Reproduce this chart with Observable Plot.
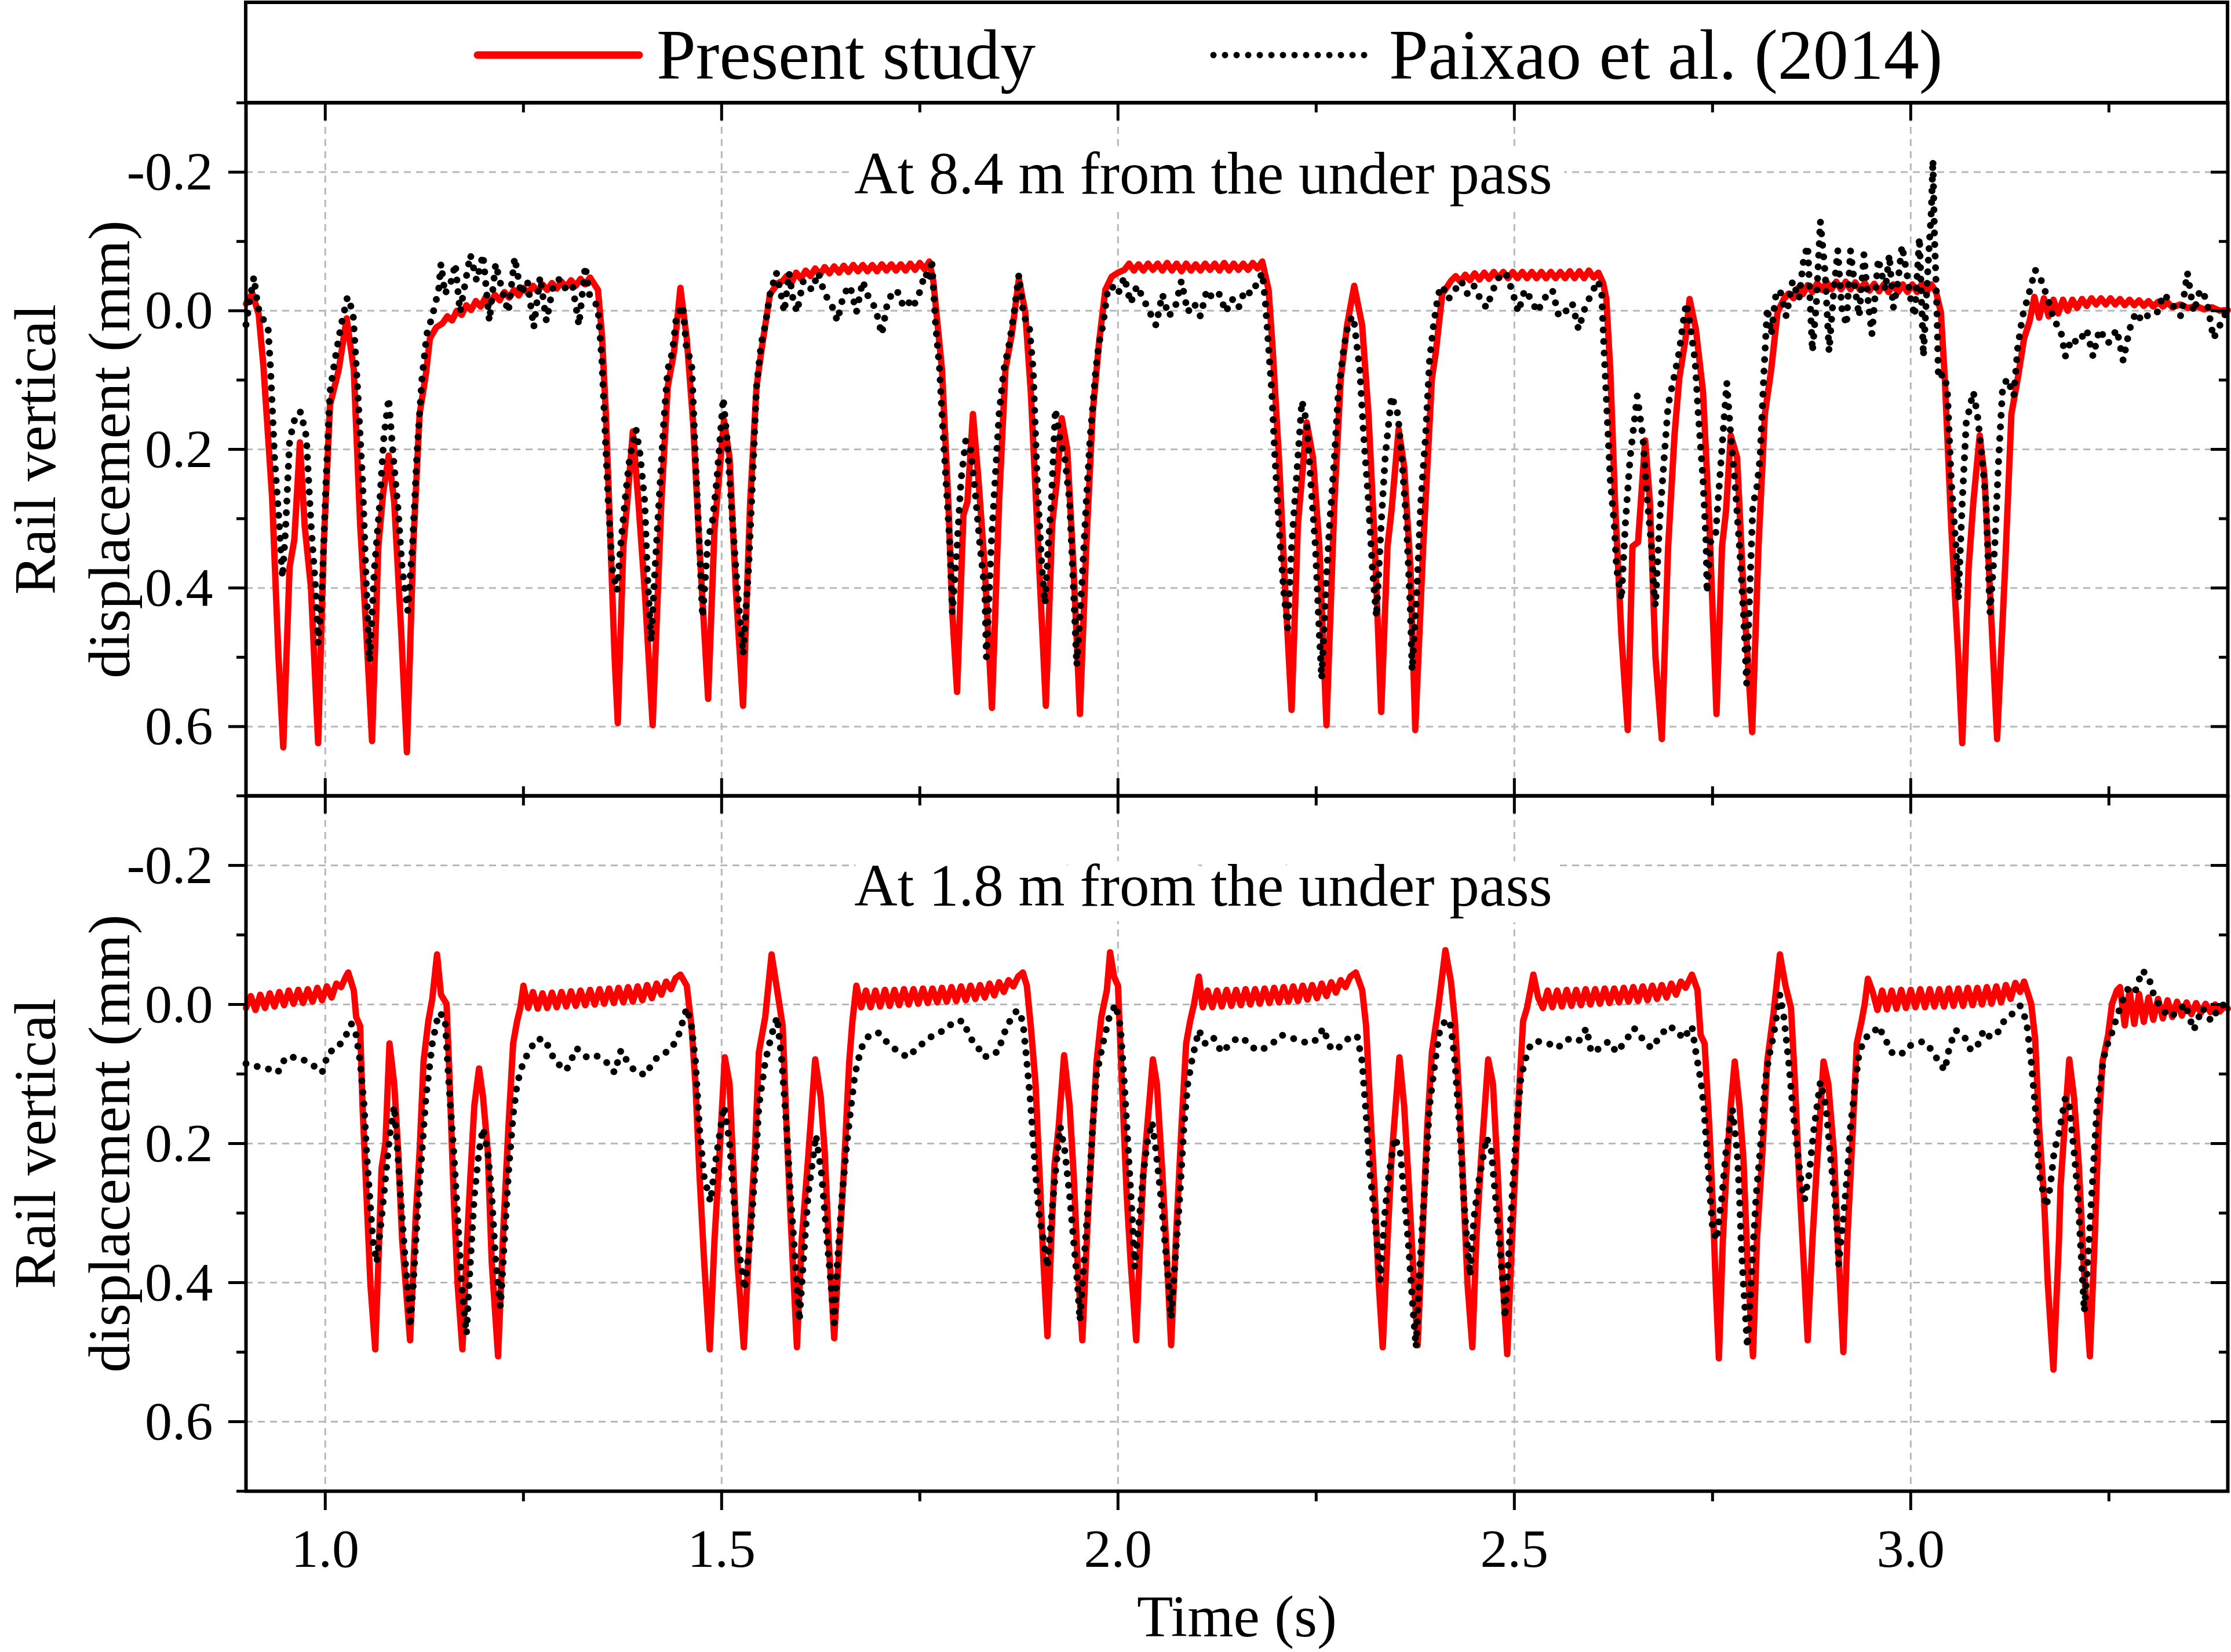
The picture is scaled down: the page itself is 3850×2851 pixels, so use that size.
<!DOCTYPE html>
<html>
<head>
<meta charset="utf-8">
<script src="https://cdn.jsdelivr.net/npm/d3@7"></script>
<script src="https://cdn.jsdelivr.net/npm/@observablehq/plot@0.6"></script>
<style>
html, body { margin: 0; padding: 0; background: #fff; }
#chart { position: relative; width: 3850px; height: 2851px; background: #fff; overflow: hidden; }
#chart > * { position: absolute; left: 0; }
</style>
</head>
<body>
<div id="chart"></div>
<script>
// ---------- ticks, labels ----------
const xMajorTicks = [1.0, 1.5, 2.0, 2.5, 3.0];
const xMinorTicks = [1.25, 1.75, 2.25, 2.75, 3.25];
const yMajorTicks = [-0.2, 0.0, 0.2, 0.4, 0.6];
const yMinorTicks = [-0.3, -0.1, 0.1, 0.3, 0.5, 0.7];
const seriesNames = ["Present study", "Paixao et al. (2014)"];
const panelLabels = ["At 8.4 m from the under pass", "At 1.8 m from the under pass"];
const xTitle = "Time (s)";
const yTitle = "Rail vertical\ndisplacement (mm)";

// ---------- top panel: Present study (time s, displacement mm) ----------
const redTop = [
[0.900,-0.010],[0.908,-0.025],[0.916,0.005],[0.922,0.080],[0.933,0.270],[0.941,0.500],[0.947,0.630],[0.955,0.370],[0.961,0.330],[0.968,0.190],[0.974,0.310],[0.982,0.400],[0.991,0.624],[0.998,0.340],[1.006,0.136],[1.017,0.085],[1.027,0.011],[1.036,0.085],[1.044,0.308],[1.052,0.468],[1.059,0.621],[1.067,0.340],[1.073,0.263],[1.080,0.209],[1.087,0.276],[1.096,0.468],[1.103,0.637],[1.111,0.340],[1.119,0.149],[1.127,0.091],[1.132,0.040],[1.140,0.024],[1.148,0.018],
[1.154,0.008],[1.160,0.014],[1.166,0.000],[1.172,0.006],[1.178,-0.008],[1.184,-0.001],[1.190,-0.014],[1.196,-0.006],[1.202,-0.019],[1.208,-0.011],[1.214,-0.023],[1.220,-0.015],[1.226,-0.027],[1.232,-0.019],[1.238,-0.030],[1.244,-0.022],[1.250,-0.033],[1.256,-0.025],[1.262,-0.036],[1.268,-0.028],[1.274,-0.038],[1.280,-0.030],[1.286,-0.040],[1.292,-0.032],[1.298,-0.042],[1.304,-0.034],[1.310,-0.044],[1.316,-0.036],[1.322,-0.046],[1.328,-0.038],[1.334,-0.048],
[1.344,-0.030],[1.349,0.034],[1.354,0.149],[1.360,0.340],[1.365,0.500],[1.369,0.595],[1.376,0.340],[1.381,0.276],[1.388,0.174],[1.395,0.276],[1.403,0.404],[1.413,0.598],[1.424,0.276],[1.432,0.110],[1.440,0.059],[1.448,-0.033],[1.456,0.040],[1.464,0.161],[1.472,0.340],[1.483,0.560],[1.491,0.315],[1.503,0.158],[1.510,0.212],[1.518,0.404],[1.527,0.570],[1.536,0.276],[1.544,0.110],[1.550,0.059],[1.561,-0.024],[1.571,-0.040],[1.577,-0.043],
[1.582,-0.050],[1.588,-0.040],[1.594,-0.055],[1.600,-0.046],[1.606,-0.058],[1.612,-0.050],[1.618,-0.061],[1.624,-0.052],[1.630,-0.063],[1.636,-0.054],[1.642,-0.064],[1.648,-0.055],[1.654,-0.065],[1.660,-0.056],[1.666,-0.066],[1.672,-0.057],[1.678,-0.066],[1.684,-0.057],[1.690,-0.066],[1.696,-0.057],[1.702,-0.067],[1.708,-0.058],[1.714,-0.067],[1.720,-0.058],[1.726,-0.067],[1.732,-0.058],[1.738,-0.068],[1.744,-0.059],[1.750,-0.069],[1.756,-0.060],[1.762,-0.071],
[1.767,-0.043],[1.778,0.085],[1.786,0.276],[1.791,0.436],[1.797,0.550],[1.805,0.295],[1.810,0.276],[1.817,0.149],[1.824,0.244],[1.832,0.372],[1.841,0.573],[1.850,0.276],[1.858,0.085],[1.866,0.034],[1.875,-0.046],[1.883,0.002],[1.890,0.117],[1.898,0.308],[1.909,0.570],[1.917,0.308],[1.923,0.244],[1.929,0.155],[1.936,0.200],[1.944,0.372],[1.952,0.582],[1.960,0.340],[1.968,0.149],[1.976,0.047],[1.984,-0.030],[1.992,-0.049],[2.000,-0.055],
[2.008,-0.059],[2.014,-0.068],[2.020,-0.058],[2.026,-0.067],[2.032,-0.058],[2.038,-0.068],[2.044,-0.059],[2.050,-0.068],[2.056,-0.058],[2.062,-0.069],[2.068,-0.058],[2.074,-0.068],[2.080,-0.057],[2.086,-0.068],[2.092,-0.058],[2.098,-0.067],[2.104,-0.058],[2.110,-0.068],[2.116,-0.059],[2.122,-0.068],[2.128,-0.058],[2.134,-0.069],[2.140,-0.058],[2.146,-0.068],[2.152,-0.059],[2.158,-0.068],[2.164,-0.059],[2.170,-0.069],[2.176,-0.061],[2.182,-0.071],
[2.190,-0.030],[2.195,0.053],[2.203,0.212],[2.211,0.404],[2.219,0.576],[2.227,0.308],[2.238,0.161],[2.246,0.212],[2.254,0.340],[2.263,0.598],[2.273,0.276],[2.281,0.098],[2.289,0.021],[2.298,-0.036],[2.308,0.021],[2.316,0.149],[2.324,0.340],[2.332,0.579],[2.340,0.340],[2.345,0.289],[2.354,0.171],[2.361,0.225],[2.369,0.372],[2.375,0.605],[2.385,0.340],[2.396,0.098],[2.401,0.059],[2.409,-0.024],[2.420,-0.043],
[2.426,-0.050],[2.432,-0.042],[2.438,-0.052],[2.444,-0.044],[2.450,-0.054],[2.456,-0.045],[2.462,-0.055],[2.468,-0.046],[2.474,-0.056],[2.480,-0.047],[2.486,-0.056],[2.492,-0.047],[2.498,-0.056],[2.504,-0.047],[2.510,-0.056],[2.516,-0.047],[2.522,-0.056],[2.528,-0.047],[2.534,-0.056],[2.540,-0.047],[2.546,-0.056],[2.552,-0.047],[2.558,-0.056],[2.564,-0.047],[2.570,-0.057],[2.576,-0.047],[2.582,-0.057],[2.588,-0.047],[2.594,-0.058],[2.600,-0.048],[2.606,-0.055],
[2.612,-0.040],[2.616,-0.017],[2.621,0.085],[2.627,0.276],[2.635,0.468],[2.643,0.605],[2.649,0.340],[2.656,0.334],[2.665,0.187],[2.671,0.276],[2.678,0.500],[2.686,0.618],[2.694,0.340],[2.702,0.180],[2.708,0.098],[2.716,0.040],[2.721,-0.017],[2.729,0.027],[2.738,0.117],[2.746,0.308],[2.755,0.582],[2.762,0.340],[2.767,0.289],[2.773,0.180],[2.781,0.212],[2.789,0.404],[2.800,0.608],[2.808,0.340],[2.816,0.149],[2.824,0.085],[2.832,0.002],[2.840,-0.017],
[2.846,-0.025],[2.852,-0.018],[2.858,-0.033],[2.864,-0.024],[2.870,-0.037],[2.876,-0.027],[2.882,-0.040],[2.888,-0.030],[2.894,-0.041],[2.900,-0.031],[2.906,-0.042],[2.912,-0.031],[2.918,-0.042],[2.924,-0.031],[2.930,-0.041],[2.936,-0.030],[2.942,-0.040],[2.948,-0.029],[2.954,-0.039],[2.960,-0.028],[2.966,-0.038],[2.972,-0.027],[2.978,-0.038],[2.984,-0.027],[2.990,-0.038],[2.996,-0.027],[3.002,-0.038],[3.008,-0.027],[3.014,-0.039],[3.020,-0.027],[3.026,-0.038],[3.032,-0.027],
[3.038,0.002],[3.043,0.098],[3.051,0.308],[3.060,0.500],[3.065,0.624],[3.073,0.372],[3.079,0.276],[3.087,0.180],[3.093,0.238],[3.100,0.404],[3.109,0.618],[3.119,0.372],[3.127,0.149],[3.135,0.098],[3.143,0.040],[3.150,0.015],
[3.156,-0.020],[3.162,0.010],[3.168,-0.018],[3.174,0.008],[3.180,-0.016],[3.186,0.004],[3.192,-0.016],[3.198,0.000],[3.204,-0.016],[3.210,-0.004],[3.216,-0.017],[3.222,-0.007],[3.228,-0.018],[3.234,-0.009],[3.240,-0.018],[3.246,-0.009],[3.252,-0.018],[3.258,-0.009],[3.264,-0.017],[3.270,-0.008],[3.276,-0.016],[3.282,-0.008],[3.288,-0.015],[3.294,-0.007],[3.300,-0.014],[3.306,-0.006],[3.312,-0.013],[3.318,-0.006],[3.324,-0.012],[3.330,-0.005],[3.340,-0.009],[3.350,-0.004],[3.360,-0.007],[3.370,-0.002],[3.380,-0.005],[3.390,0.000],[3.400,-0.001]
];

// ---------- top panel: Paixao et al. (2014) ----------
const blackTop = [
[0.900,0.020],[0.904,-0.010],[0.910,-0.049],[0.915,-0.005],[0.920,0.008],[0.928,0.027],[0.931,0.085],[0.936,0.212],[0.942,0.308],[0.946,0.385],[0.950,0.314],[0.955,0.187],[0.963,0.149],[0.969,0.146],[0.976,0.181],[0.982,0.308],[0.988,0.404],[0.991,0.480],[0.996,0.404],[1.001,0.244],[1.006,0.117],[1.012,0.072],[1.020,0.021],[1.028,-0.020],[1.035,0.002],[1.041,0.117],[1.047,0.244],[1.052,0.404],[1.056,0.506],[1.062,0.372],[1.068,0.289],[1.074,0.181],[1.080,0.126],[1.085,0.200],[1.092,0.289],[1.097,0.372],[1.104,0.433],[1.110,0.340],[1.116,0.200],[1.122,0.098],[1.128,0.034],[1.135,0.008],[1.143,-0.030],
[1.146,-0.068],[1.151,-0.024],[1.159,-0.043],[1.164,-0.068],[1.170,0.002],[1.175,-0.030],[1.183,-0.081],[1.191,-0.043],[1.199,-0.081],[1.207,0.015],[1.215,-0.068],[1.223,-0.030],[1.231,0.002],[1.239,-0.077],[1.247,-0.024],[1.255,-0.043],[1.263,0.024],[1.271,-0.049],[1.279,0.015],[1.288,-0.039],[1.296,-0.046],[1.304,-0.030],[1.312,-0.036],[1.320,0.021],[1.328,-0.065],[1.333,-0.024],[1.338,-0.017],[1.344,-0.004],
[1.349,0.072],[1.352,0.149],[1.357,0.276],[1.362,0.372],[1.368,0.404],[1.373,0.334],[1.379,0.264],[1.384,0.212],[1.392,0.171],[1.397,0.206],[1.403,0.276],[1.406,0.372],[1.411,0.477],[1.416,0.372],[1.421,0.276],[1.427,0.161],[1.432,0.085],[1.438,0.059],[1.443,0.008],[1.451,-0.008],[1.456,0.059],[1.462,0.072],[1.467,0.212],[1.472,0.340],[1.476,0.442],[1.483,0.327],[1.488,0.308],[1.494,0.244],[1.502,0.126],[1.507,0.187],[1.512,0.276],[1.520,0.404],[1.527,0.496],[1.534,0.372],[1.539,0.244],[1.544,0.110],[1.550,0.047],[1.555,0.021],[1.561,-0.024],
[1.569,-0.055],[1.574,-0.030],[1.579,0.002],[1.585,-0.055],[1.590,-0.017],[1.595,0.002],[1.603,-0.043],[1.614,-0.030],[1.622,-0.055],[1.630,-0.024],[1.638,-0.011],[1.646,0.015],[1.654,-0.024],[1.662,-0.036],[1.670,0.002],[1.678,-0.043],[1.686,-0.017],[1.694,-0.004],[1.702,0.034],[1.710,-0.017],[1.721,-0.030],[1.728,-0.010],[1.733,-0.017],[1.741,-0.004],[1.749,-0.024],[1.757,-0.055],[1.762,-0.043],[1.765,-0.075],
[1.770,0.021],[1.775,0.085],[1.778,0.149],[1.783,0.244],[1.788,0.340],[1.791,0.436],[1.797,0.340],[1.802,0.244],[1.808,0.187],[1.814,0.200],[1.820,0.264],[1.826,0.340],[1.832,0.404],[1.834,0.500],[1.840,0.340],[1.845,0.244],[1.850,0.149],[1.856,0.085],[1.863,0.047],[1.869,0.002],[1.875,-0.052],[1.881,0.008],[1.888,0.021],[1.893,0.085],[1.898,0.244],[1.904,0.372],[1.908,0.423],[1.912,0.340],[1.916,0.276],[1.921,0.142],[1.927,0.187],[1.933,0.212],[1.939,0.276],[1.944,0.404],[1.948,0.512],[1.954,0.404],[1.960,0.276],[1.965,0.181],[1.972,0.085],[1.976,0.047],[1.981,0.021],[1.987,-0.030],
[1.992,-0.036],[2.000,-0.024],[2.008,-0.049],[2.016,-0.011],[2.024,-0.036],[2.032,-0.017],[2.040,0.002],[2.048,0.021],[2.056,-0.024],[2.064,0.008],[2.072,-0.004],[2.080,-0.043],[2.088,0.002],[2.096,-0.011],[2.104,0.008],[2.112,-0.030],[2.120,-0.017],[2.128,-0.024],[2.136,0.002],[2.144,-0.017],[2.152,-0.004],[2.160,-0.030],[2.168,-0.024],[2.177,-0.043],[2.182,-0.055],
[2.186,-0.011],[2.190,0.053],[2.194,0.117],[2.198,0.212],[2.203,0.308],[2.209,0.404],[2.214,0.458],[2.219,0.340],[2.225,0.244],[2.232,0.130],[2.238,0.161],[2.243,0.244],[2.249,0.340],[2.254,0.468],[2.257,0.531],[2.262,0.404],[2.267,0.308],[2.273,0.212],[2.278,0.117],[2.285,0.053],[2.291,0.015],[2.297,0.008],[2.305,0.085],[2.310,0.181],[2.316,0.276],[2.321,0.372],[2.326,0.442],[2.332,0.308],[2.337,0.212],[2.345,0.123],[2.353,0.149],[2.358,0.212],[2.364,0.308],[2.369,0.436],[2.371,0.519],[2.377,0.404],[2.382,0.276],[2.388,0.181],[2.393,0.072],[2.398,0.021],[2.404,-0.024],
[2.409,-0.036],[2.417,-0.017],[2.425,-0.030],[2.433,-0.043],[2.441,-0.024],[2.449,-0.036],[2.457,-0.017],[2.465,-0.004],[2.473,-0.030],[2.481,-0.049],[2.489,-0.055],[2.497,-0.030],[2.505,0.002],[2.513,-0.030],[2.521,-0.017],[2.529,0.002],[2.537,-0.017],[2.548,-0.030],[2.556,0.008],[2.564,0.002],[2.573,-0.011],[2.581,0.027],[2.589,-0.004],[2.597,-0.024],[2.605,-0.043],[2.610,-0.030],
[2.613,0.053],[2.617,0.149],[2.621,0.244],[2.626,0.308],[2.629,0.372],[2.635,0.417],[2.640,0.308],[2.646,0.212],[2.655,0.123],[2.662,0.181],[2.667,0.264],[2.673,0.340],[2.676,0.404],[2.678,0.426],[2.683,0.308],[2.689,0.212],[2.694,0.136],[2.700,0.104],[2.708,0.059],[2.714,0.008],[2.717,-0.011],[2.721,0.015],[2.728,0.072],[2.732,0.149],[2.738,0.244],[2.742,0.340],[2.743,0.407],[2.748,0.327],[2.754,0.321],[2.759,0.244],[2.765,0.149],[2.768,0.104],[2.773,0.181],[2.778,0.244],[2.784,0.340],[2.789,0.436],[2.793,0.538],[2.797,0.404],[2.801,0.276],[2.805,0.264],[2.810,0.212],[2.815,0.085],[2.819,-0.004],[2.824,0.034],[2.830,-0.024],
[2.835,-0.030],[2.843,0.008],[2.851,-0.043],[2.859,-0.017],[2.865,-0.075],[2.870,-0.094],[2.876,0.059],[2.881,-0.011],[2.886,-0.129],[2.892,-0.055],[2.897,0.059],[2.903,-0.030],[2.908,-0.087],[2.913,-0.004],[2.919,0.021],[2.924,-0.087],[2.930,-0.030],[2.935,0.008],[2.941,-0.081],[2.946,-0.017],[2.951,0.034],[2.959,-0.075],[2.968,-0.030],[2.973,-0.081],[2.978,-0.004],[2.984,-0.043],[2.989,-0.094],[2.995,-0.055],[3.000,-0.017],[3.005,0.008],[3.011,-0.106],[3.016,0.066],[3.022,-0.068],[3.026,-0.144],[3.028,-0.218],[3.030,-0.107],[3.033,-0.004],[3.035,0.098],[3.041,0.091],[3.046,0.110],[3.051,0.244],[3.057,0.340],[3.060,0.417],[3.065,0.276],[3.070,0.162],[3.079,0.117],[3.084,0.149],[3.089,0.200],[3.095,0.276],[3.097,0.340],[3.100,0.436],[3.106,0.340],[3.111,0.212],[3.116,0.110],[3.122,0.098],[3.130,0.123],[3.135,0.053],[3.141,0.008],[3.149,-0.024],[3.157,-0.059],[3.165,-0.043],[3.173,-0.017],[3.181,0.015],[3.189,0.027],[3.195,0.066],[3.203,0.040],[3.211,0.047],[3.222,0.027],[3.230,0.066],[3.238,0.027],[3.249,0.047],[3.260,0.027],[3.268,0.072],[3.276,0.027],[3.284,0.002],[3.292,0.015],[3.303,0.002],[3.311,0.002],[3.319,-0.024],[3.325,-0.017],[3.333,-0.004],[3.341,0.008],[3.349,-0.055],[3.357,0.002],[3.365,-0.030],[3.373,-0.017],[3.382,0.040],[3.390,0.021],[3.398,0.002]
];

// ---------- bottom panel: Present study ----------
const redBottom = [
[0.900,0.005],[0.906,-0.012],[0.912,0.008],[0.918,-0.014],[0.924,0.005],[0.930,-0.016],[0.936,0.003],[0.942,-0.018],[0.948,0.001],[0.954,-0.020],[0.960,-0.001],[0.966,-0.021],[0.972,-0.002],[0.978,-0.022],[0.984,-0.004],[0.990,-0.024],[0.996,-0.006],[1.002,-0.026],[1.008,-0.010],[1.014,-0.030],[1.020,-0.025],[1.026,-0.040],[1.029,-0.046],
[1.036,-0.020],[1.039,0.018],[1.044,0.031],[1.047,0.146],[1.052,0.274],[1.057,0.403],[1.063,0.496],[1.068,0.339],[1.071,0.236],[1.076,0.198],[1.081,0.056],[1.087,0.114],[1.092,0.211],[1.097,0.339],[1.107,0.483],[1.114,0.307],[1.119,0.211],[1.124,0.082],[1.130,0.024],[1.135,-0.008],[1.141,-0.072],[1.146,-0.014],[1.153,-0.001],[1.156,0.082],[1.162,0.275],[1.167,0.403],[1.173,0.496],[1.179,0.339],[1.183,0.249],[1.188,0.146],[1.194,0.092],[1.199,0.133],[1.205,0.211],[1.210,0.371],[1.218,0.506],[1.224,0.339],[1.231,0.178],[1.237,0.056],[1.242,0.024],[1.246,0.005],[1.250,-0.027],
[1.256,0.005],[1.262,-0.018],[1.268,0.006],[1.274,-0.016],[1.280,0.005],[1.286,-0.017],[1.292,0.004],[1.298,-0.018],[1.304,0.003],[1.310,-0.019],[1.316,0.002],[1.322,-0.020],[1.328,0.001],[1.334,-0.021],[1.340,0.000],[1.346,-0.022],[1.352,-0.001],[1.358,-0.023],[1.364,-0.002],[1.370,-0.024],[1.376,-0.003],[1.382,-0.025],[1.388,-0.004],[1.394,-0.026],[1.400,-0.006],[1.406,-0.028],[1.412,-0.009],[1.418,-0.030],[1.424,-0.014],[1.430,-0.033],[1.436,-0.022],[1.442,-0.038],[1.448,-0.043],
[1.456,-0.027],[1.462,0.031],[1.467,0.115],[1.472,0.243],[1.478,0.371],[1.485,0.496],[1.491,0.339],[1.496,0.243],[1.504,0.076],[1.510,0.114],[1.515,0.243],[1.520,0.371],[1.528,0.493],[1.535,0.339],[1.542,0.211],[1.547,0.069],[1.555,0.018],[1.563,-0.072],[1.570,-0.021],[1.577,0.031],[1.582,0.178],[1.587,0.307],[1.595,0.493],[1.601,0.339],[1.609,0.223],[1.618,0.079],[1.625,0.133],[1.630,0.211],[1.635,0.339],[1.642,0.480],[1.649,0.339],[1.654,0.243],[1.661,0.082],[1.665,0.024],[1.670,-0.027],
[1.676,0.004],[1.682,-0.020],[1.688,0.004],[1.694,-0.020],[1.700,0.003],[1.706,-0.021],[1.712,0.002],[1.718,-0.021],[1.724,0.001],[1.730,-0.022],[1.736,0.000],[1.742,-0.022],[1.748,-0.001],[1.754,-0.023],[1.760,-0.002],[1.766,-0.023],[1.772,-0.003],[1.778,-0.024],[1.784,-0.004],[1.790,-0.025],[1.796,-0.005],[1.802,-0.026],[1.808,-0.006],[1.814,-0.027],[1.820,-0.008],[1.826,-0.028],[1.832,-0.010],[1.838,-0.030],[1.844,-0.013],[1.850,-0.032],[1.856,-0.018],[1.862,-0.035],[1.868,-0.026],[1.874,-0.040],[1.880,-0.046],
[1.885,-0.027],[1.890,0.031],[1.896,0.114],[1.901,0.243],[1.906,0.371],[1.911,0.477],[1.917,0.307],[1.920,0.230],[1.925,0.178],[1.932,0.073],[1.939,0.146],[1.944,0.243],[1.949,0.371],[1.955,0.483],[1.962,0.307],[1.968,0.178],[1.973,0.082],[1.979,0.018],[1.986,-0.021],[1.990,-0.075],[1.995,-0.040],[2.000,-0.027],[2.005,0.114],[2.011,0.274],[2.016,0.371],[2.023,0.483],[2.028,0.339],[2.032,0.243],[2.044,0.079],[2.049,0.114],[2.056,0.243],[2.062,0.371],[2.067,0.490],[2.073,0.339],[2.080,0.178],[2.086,0.056],[2.091,0.024],[2.096,-0.001],[2.102,-0.040],
[2.107,0.004],[2.113,-0.020],[2.119,0.004],[2.125,-0.020],[2.131,0.003],[2.137,-0.021],[2.143,0.002],[2.149,-0.021],[2.155,0.001],[2.161,-0.022],[2.167,0.000],[2.173,-0.022],[2.179,-0.001],[2.185,-0.023],[2.191,-0.002],[2.197,-0.024],[2.203,-0.003],[2.209,-0.025],[2.215,-0.004],[2.221,-0.026],[2.227,-0.005],[2.233,-0.027],[2.239,-0.007],[2.245,-0.028],[2.251,-0.009],[2.257,-0.030],[2.263,-0.012],[2.269,-0.032],[2.275,-0.017],[2.281,-0.035],[2.287,-0.025],[2.293,-0.040],[2.300,-0.046],
[2.308,-0.021],[2.313,0.031],[2.318,0.146],[2.324,0.275],[2.329,0.403],[2.334,0.493],[2.340,0.339],[2.345,0.223],[2.355,0.076],[2.361,0.146],[2.366,0.243],[2.372,0.371],[2.378,0.490],[2.385,0.307],[2.390,0.178],[2.396,0.069],[2.404,0.005],[2.413,-0.078],[2.420,-0.033],[2.425,0.024],[2.431,0.146],[2.436,0.275],[2.441,0.403],[2.447,0.493],[2.452,0.339],[2.458,0.223],[2.467,0.079],[2.473,0.114],[2.479,0.243],[2.484,0.371],[2.491,0.503],[2.497,0.339],[2.505,0.146],[2.511,0.024],[2.516,0.005],[2.524,-0.043],
[2.530,-0.010],[2.536,0.005],[2.542,-0.020],[2.548,0.004],[2.554,-0.020],[2.560,0.003],[2.566,-0.021],[2.572,0.002],[2.578,-0.021],[2.584,0.001],[2.590,-0.022],[2.596,0.000],[2.602,-0.022],[2.608,-0.001],[2.614,-0.023],[2.620,-0.002],[2.626,-0.023],[2.632,-0.003],[2.638,-0.024],[2.644,-0.004],[2.650,-0.025],[2.656,-0.005],[2.662,-0.026],[2.668,-0.006],[2.674,-0.027],[2.680,-0.008],[2.686,-0.028],[2.692,-0.010],[2.698,-0.030],[2.704,-0.014],[2.710,-0.033],[2.716,-0.024],[2.724,-0.043],
[2.731,-0.021],[2.735,0.044],[2.740,0.056],[2.746,0.178],[2.751,0.307],[2.754,0.403],[2.758,0.509],[2.763,0.339],[2.767,0.249],[2.773,0.146],[2.778,0.082],[2.784,0.146],[2.789,0.223],[2.794,0.371],[2.801,0.506],[2.806,0.339],[2.813,0.211],[2.819,0.082],[2.827,0.012],[2.835,-0.072],[2.842,-0.027],[2.849,0.005],[2.854,0.114],[2.859,0.243],[2.865,0.371],[2.870,0.483],[2.876,0.339],[2.881,0.243],[2.890,0.082],[2.896,0.114],[2.903,0.211],[2.908,0.339],[2.915,0.500],[2.920,0.339],[2.927,0.178],[2.932,0.056],[2.938,0.024],[2.942,-0.001],[2.946,-0.037],
[2.952,-0.018],[2.958,0.008],[2.964,-0.020],[2.970,0.007],[2.976,-0.020],[2.982,0.006],[2.988,-0.021],[2.994,0.005],[3.000,-0.021],[3.006,0.004],[3.012,-0.022],[3.018,0.004],[3.024,-0.022],[3.030,0.003],[3.036,-0.022],[3.042,0.003],[3.048,-0.023],[3.054,0.002],[3.060,-0.023],[3.066,0.002],[3.072,-0.024],[3.078,0.001],[3.084,-0.024],[3.090,0.000],[3.096,-0.025],[3.102,-0.001],[3.108,-0.026],[3.114,-0.003],[3.120,-0.028],[3.126,-0.008],[3.132,-0.031],[3.138,-0.018],[3.143,-0.033],
[3.152,-0.001],[3.157,0.050],[3.162,0.178],[3.168,0.275],[3.173,0.403],[3.180,0.525],[3.187,0.339],[3.189,0.262],[3.195,0.160],[3.200,0.079],[3.206,0.134],[3.212,0.230],[3.218,0.371],[3.226,0.506],[3.232,0.339],[3.237,0.178],[3.242,0.082],[3.249,0.044],[3.254,-0.001],[3.260,-0.020],
[3.264,-0.025],[3.270,0.030],[3.276,-0.020],[3.282,0.028],[3.288,-0.015],[3.294,0.025],[3.300,-0.010],[3.306,0.022],[3.312,-0.008],[3.318,0.020],[3.324,-0.006],[3.330,0.018],[3.336,-0.004],[3.342,0.016],[3.348,-0.003],[3.354,0.014],[3.360,-0.002],[3.366,0.012],[3.372,-0.001],[3.378,0.011],[3.384,0.000],[3.390,0.010],[3.396,0.002],[3.400,0.006]
];

// ---------- bottom panel: Paixao et al. (2014) ----------
const blackBottom = [
[0.900,0.085],[0.913,0.089],[0.926,0.092],[0.940,0.098],[0.950,0.076],[0.966,0.076],[0.982,0.085],[0.996,0.098],[1.004,0.069],[1.015,0.063],[1.025,0.047],[1.033,0.028],[1.039,0.044],[1.044,0.082],[1.049,0.146],[1.052,0.211],[1.056,0.275],[1.060,0.339],[1.065,0.371],[1.071,0.307],[1.076,0.249],[1.081,0.191],[1.087,0.146],[1.092,0.223],[1.097,0.307],[1.101,0.371],[1.106,0.436],[1.107,0.464],[1.111,0.403],[1.116,0.307],[1.122,0.211],[1.127,0.133],[1.135,0.056],[1.143,0.012],[1.151,0.018],[1.156,0.114],[1.162,0.211],[1.167,0.307],[1.172,0.403],[1.178,0.474],[1.183,0.371],[1.188,0.275],[1.194,0.211],[1.199,0.178],[1.205,0.211],[1.210,0.275],[1.215,0.371],[1.221,0.435],[1.226,0.339],[1.231,0.243],[1.237,0.159],[1.242,0.114],[1.250,0.082],[1.258,0.066],[1.266,0.050],[1.277,0.050],[1.290,0.082],[1.304,0.095],[1.317,0.063],[1.330,0.076],[1.341,0.073],[1.354,0.082],[1.365,0.098],[1.373,0.066],[1.381,0.082],[1.392,0.098],[1.405,0.101],[1.413,0.082],[1.424,0.072],[1.435,0.066],[1.445,0.047],[1.456,0.005],[1.462,0.031],[1.467,0.082],[1.472,0.178],[1.478,0.249],[1.486,0.284],[1.491,0.236],[1.496,0.198],[1.503,0.146],[1.510,0.198],[1.515,0.275],[1.520,0.339],[1.529,0.410],[1.536,0.339],[1.542,0.243],[1.547,0.146],[1.555,0.082],[1.563,0.044],[1.570,0.018],[1.576,0.082],[1.582,0.178],[1.587,0.275],[1.593,0.371],[1.598,0.455],[1.603,0.371],[1.609,0.275],[1.619,0.188],[1.626,0.243],[1.633,0.339],[1.638,0.403],[1.642,0.458],[1.646,0.371],[1.652,0.275],[1.657,0.211],[1.662,0.159],[1.668,0.101],[1.676,0.063],[1.684,0.047],[1.697,0.040],[1.710,0.056],[1.724,0.069],[1.735,0.076],[1.746,0.063],[1.757,0.053],[1.767,0.044],[1.781,0.037],[1.794,0.024],[1.805,0.024],[1.813,0.047],[1.824,0.063],[1.832,0.076],[1.840,0.069],[1.848,0.069],[1.858,0.037],[1.866,0.018],[1.873,0.008],[1.880,0.024],[1.885,0.082],[1.890,0.146],[1.896,0.243],[1.901,0.307],[1.906,0.339],[1.911,0.378],[1.916,0.307],[1.921,0.243],[1.927,0.175],[1.933,0.211],[1.939,0.275],[1.944,0.339],[1.949,0.403],[1.952,0.455],[1.957,0.371],[1.963,0.275],[1.968,0.178],[1.973,0.101],[1.981,0.056],[1.989,0.018],[1.997,0.000],[2.003,0.031],[2.008,0.114],[2.013,0.211],[2.018,0.307],[2.021,0.378],[2.027,0.307],[2.032,0.243],[2.037,0.198],[2.043,0.169],[2.048,0.211],[2.054,0.275],[2.059,0.339],[2.064,0.403],[2.067,0.451],[2.072,0.371],[2.078,0.275],[2.083,0.178],[2.088,0.114],[2.094,0.076],[2.102,0.037],[2.110,0.056],[2.120,0.047],[2.131,0.069],[2.142,0.056],[2.152,0.047],[2.163,0.053],[2.174,0.066],[2.185,0.063],[2.195,0.056],[2.206,0.044],[2.217,0.047],[2.230,0.053],[2.243,0.056],[2.251,0.050],[2.259,0.034],[2.267,0.060],[2.275,0.066],[2.286,0.053],[2.297,0.044],[2.302,0.047],[2.308,0.082],[2.313,0.159],[2.318,0.243],[2.324,0.307],[2.331,0.397],[2.336,0.307],[2.342,0.243],[2.349,0.191],[2.356,0.211],[2.361,0.275],[2.366,0.339],[2.372,0.436],[2.376,0.493],[2.381,0.371],[2.388,0.243],[2.393,0.146],[2.400,0.082],[2.406,0.037],[2.414,0.021],[2.420,0.031],[2.425,0.082],[2.431,0.178],[2.436,0.275],[2.440,0.339],[2.444,0.390],[2.449,0.307],[2.455,0.255],[2.465,0.191],[2.471,0.211],[2.476,0.275],[2.481,0.339],[2.487,0.423],[2.488,0.451],[2.494,0.339],[2.499,0.243],[2.504,0.159],[2.508,0.108],[2.513,0.082],[2.521,0.056],[2.532,0.053],[2.543,0.056],[2.554,0.063],[2.567,0.050],[2.581,0.053],[2.591,0.034],[2.597,0.069],[2.608,0.063],[2.619,0.053],[2.629,0.069],[2.640,0.053],[2.651,0.034],[2.662,0.050],[2.673,0.063],[2.683,0.047],[2.694,0.031],[2.705,0.037],[2.713,0.050],[2.724,0.031],[2.729,0.069],[2.735,0.108],[2.739,0.146],[2.743,0.211],[2.747,0.275],[2.750,0.320],[2.755,0.339],[2.762,0.275],[2.767,0.211],[2.775,0.150],[2.781,0.211],[2.784,0.275],[2.786,0.339],[2.789,0.403],[2.794,0.493],[2.800,0.371],[2.805,0.275],[2.811,0.198],[2.816,0.114],[2.821,0.076],[2.827,0.044],[2.835,-0.014],[2.840,0.018],[2.846,0.082],[2.851,0.146],[2.857,0.211],[2.864,0.275],[2.866,0.281],[2.872,0.243],[2.878,0.178],[2.886,0.111],[2.893,0.146],[2.898,0.211],[2.904,0.275],[2.908,0.339],[2.909,0.374],[2.915,0.307],[2.920,0.243],[2.924,0.178],[2.930,0.114],[2.935,0.069],[2.943,0.047],[2.951,0.044],[2.959,0.031],[2.968,0.050],[2.976,0.069],[2.987,0.073],[2.997,0.060],[3.008,0.056],[3.016,0.053],[3.027,0.066],[3.035,0.082],[3.043,0.095],[3.049,0.060],[3.057,0.037],[3.068,0.047],[3.076,0.066],[3.084,0.060],[3.092,0.037],[3.100,0.047],[3.108,0.044],[3.119,0.021],[3.130,0.012],[3.138,0.002],[3.146,0.024],[3.152,0.082],[3.157,0.146],[3.162,0.243],[3.171,0.291],[3.176,0.262],[3.181,0.211],[3.187,0.185],[3.195,0.134],[3.200,0.146],[3.206,0.211],[3.211,0.275],[3.214,0.339],[3.219,0.442],[3.225,0.339],[3.230,0.243],[3.235,0.146],[3.241,0.095],[3.246,0.063],[3.252,0.047],[3.260,0.018],[3.268,-0.008],[3.276,-0.027],[3.284,-0.021],[3.292,-0.049],[3.300,-0.040],[3.308,-0.008],[3.317,0.005],[3.325,0.018],[3.336,0.012],[3.346,-0.001],[3.357,0.037],[3.368,0.005],[3.379,0.024],[3.390,0.002],[3.400,-0.001]
];

// ---------- drawing ----------
const FONT = '"Liberation Serif", "Times New Roman", Times, serif';
const RED = "#ff0000";
const rows = a => a.map(([t, v]) => ({t, v}));
const fmt = d => d.toFixed(1);
const blank = () => "";

function makePanel(red, black, label, labelDy, isBottom) {
  const H = isBottom ? 1478 : 1196;
  const MB = isBottom ? 278 : 0;
  const grid = {stroke: "#b8b8b8", strokeOpacity: 1, strokeWidth: 3, strokeDasharray: "12,9"};
  const tk = {strokeWidth: 5, label: null};
  const marks = [
    Plot.gridX(xMajorTicks, grid),
    Plot.gridY(yMajorTicks, grid),
    Plot.text([label], {text: d => d, frameAnchor: "top", lineAnchor: "middle", dx: -58, dy: labelDy, fontSize: 103, fill: "white", stroke: "white", strokeWidth: 56, strokeLinejoin: "round"}),
    Plot.text([label], {text: d => d, frameAnchor: "top", lineAnchor: "middle", dx: -58, dy: labelDy, fontSize: 103, fill: "black"}),
    Plot.line(rows(red), {x: "t", y: "v", stroke: RED, strokeWidth: 11, strokeLinejoin: "round", strokeLinecap: "round"}),
    Plot.line(rows(black), {x: "t", y: "v", stroke: "black", strokeWidth: 12, strokeDasharray: "0,20", strokeLinecap: "round", strokeLinejoin: "round"}),
    Plot.text([yTitle], {text: d => d, frameAnchor: "left", rotate: -90, dx: -306, fontSize: 102, lineHeight: 1.255, lineAnchor: "middle", textAnchor: "middle", fill: "black"}),
    Plot.axisY(yMajorTicks, {anchor: "left", tickSize: 30, tickPadding: 27, tickFormat: fmt, fontSize: 94, ...tk}),
    Plot.axisY(yMinorTicks, {anchor: "left", tickSize: 16, tickFormat: blank, ...tk}),
    Plot.axisY(yMajorTicks, {anchor: "right", tickSize: -30, tickFormat: blank, ...tk}),
    Plot.axisY(yMinorTicks, {anchor: "right", tickSize: -16, tickFormat: blank, ...tk}),
    Plot.axisX(xMajorTicks, {anchor: "top", tickSize: -30, tickFormat: blank, ...tk}),
    Plot.axisX(xMinorTicks, {anchor: "top", tickSize: -16, tickFormat: blank, ...tk})
  ];
  if (isBottom) {
    marks.push(
      Plot.axisX(xMajorTicks, {anchor: "bottom", tickSize: 33, tickPadding: 31, tickFormat: fmt, fontSize: 94, ...tk}),
      Plot.axisX(xMinorTicks, {anchor: "bottom", tickSize: 18, tickFormat: blank, ...tk}),
      Plot.text([xTitle], {text: d => d, frameAnchor: "bottom", lineAnchor: "middle", dy: 218, fontSize: 102, fill: "black"})
    );
  } else {
    marks.push(
      Plot.axisX(xMajorTicks, {anchor: "bottom", tickSize: -30, tickFormat: blank, ...tk}),
      Plot.axisX(xMinorTicks, {anchor: "bottom", tickSize: -16, tickFormat: blank, ...tk})
    );
  }
  marks.push(Plot.frame({stroke: "black", strokeWidth: 6}));
  return Plot.plot({
    width: 3850, height: H,
    marginLeft: 424, marginRight: 6, marginTop: 0, marginBottom: MB,
    style: {fontFamily: FONT, color: "black", background: "transparent", overflow: "visible"},
    x: {domain: [0.9, 3.4], axis: null, label: null},
    y: {domain: [-0.3, 0.7], reverse: true, axis: null, label: null},
    marks
  });
}

const chartDiv = document.getElementById("chart");

// legend box above the panels
const legendSvg = d3.create("svg")
  .attr("width", 3850).attr("height", 182)
  .style("top", "0px").style("overflow", "visible")
  .style("font-family", FONT);
legendSvg.append("rect").attr("x", 424).attr("y", 4).attr("width", 3420).attr("height", 173)
  .attr("fill", "white").attr("stroke", "black").attr("stroke-width", 6);
const legendItems = [
  {name: seriesNames[0], x1: 824, x2: 1103, tx: 1133, stroke: RED, w: 13, dash: null},
  {name: seriesNames[1], x1: 2094, x2: 2357, tx: 2397, stroke: "black", w: 11, dash: "0,20"}
];
for (const it of legendItems) {
  const ln = legendSvg.append("line").attr("x1", it.x1).attr("x2", it.x2).attr("y1", 95).attr("y2", 95)
    .attr("stroke", it.stroke).attr("stroke-width", it.w).attr("stroke-linecap", "round");
  if (it.dash) ln.attr("stroke-dasharray", it.dash);
  legendSvg.append("text").attr("x", it.tx).attr("y", 136).attr("font-size", 122).attr("fill", "black").text(it.name);
}

const topPanel = makePanel(redTop, blackTop, panelLabels[0], 124, false);
topPanel.style.top = "177px";
const bottomPanel = makePanel(redBottom, blackBottom, panelLabels[1], 157, true);
bottomPanel.style.top = "1373px";

chartDiv.appendChild(topPanel);
chartDiv.appendChild(bottomPanel);
chartDiv.appendChild(legendSvg.node());
</script>
</body>
</html>
